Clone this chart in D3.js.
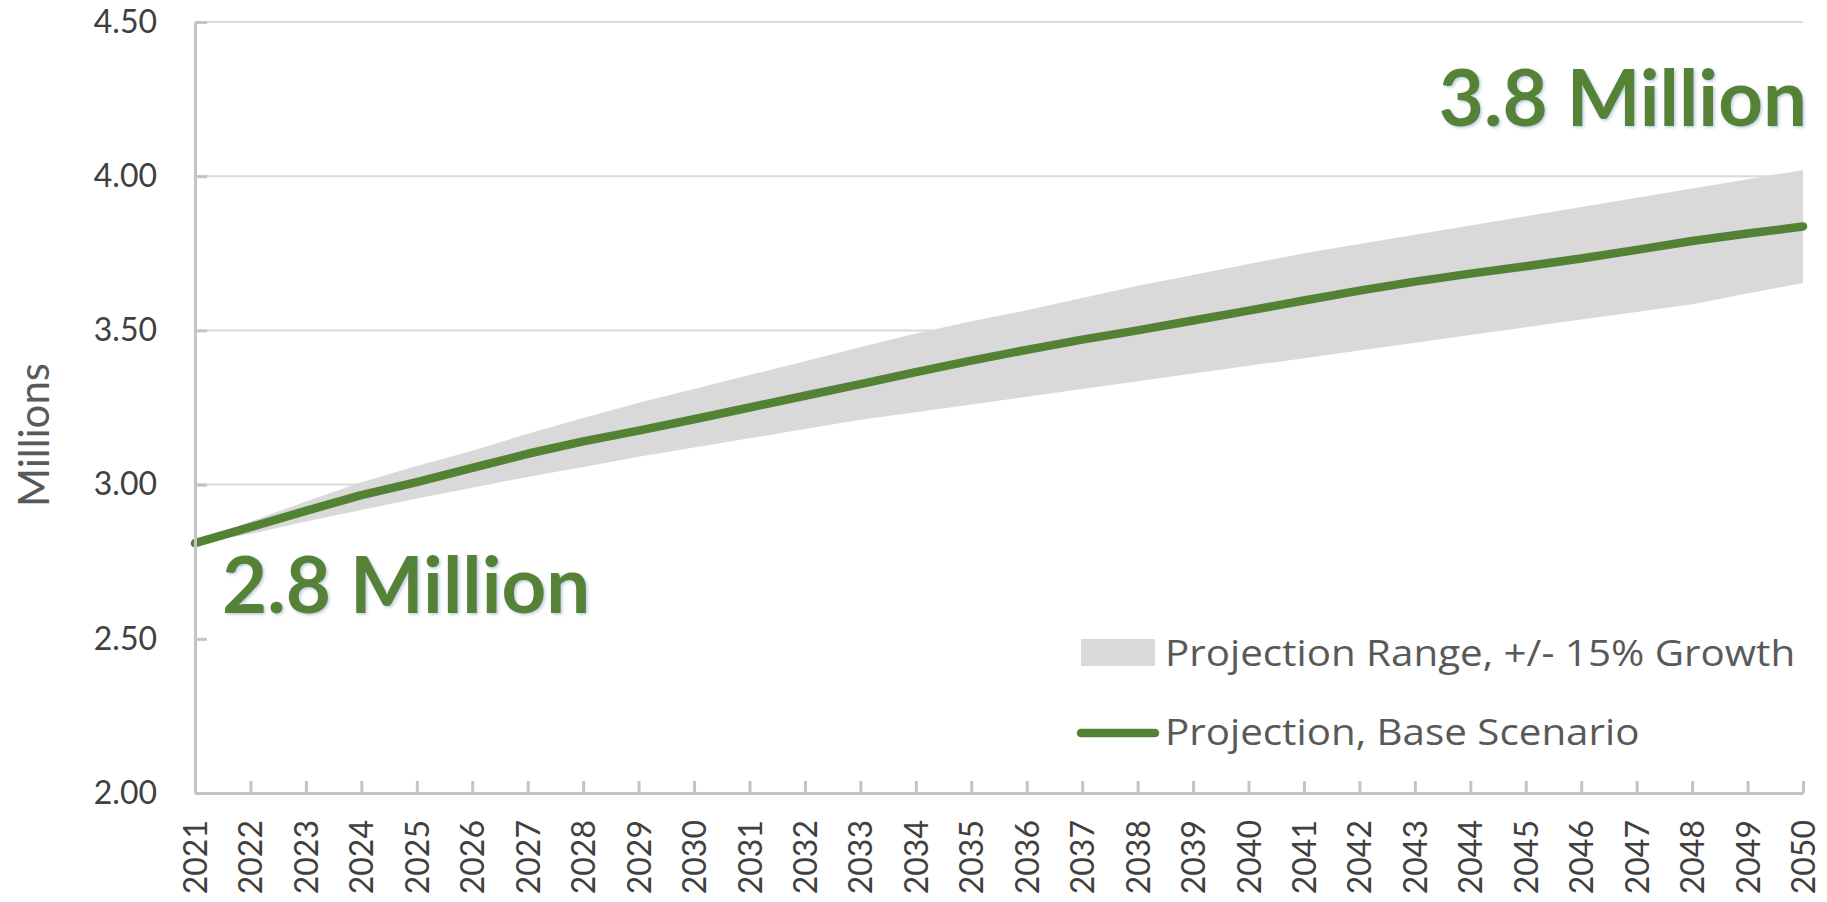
<!DOCTYPE html>
<html lang="en">
<head>
<meta charset="utf-8">
<title>Population Projection 2021-2050</title>
<script src="https://cdn.jsdelivr.net/npm/d3@7"></script>
<style>
  html, body { margin: 0; padding: 0; background: #fff; }
  svg { display: block; font-family: Lato, "Open Sans", sans-serif; }
  .axis path, .axis line { stroke: #c4c4c4; stroke-width: 3; }
  .axis text { fill: #404040; font-size: 32px; font-family: Lato, sans-serif; }
  .grid line { stroke: #d9d9d9; stroke-width: 2; }
</style>
</head>
<body>
<script>
var w = 1827, h = 902;
var margin = {top: 22, right: 24, bottom: 109, left: 195};

// data (millions)
var years = d3.range(2021, 2051);
var baseScenario = [2.81, 2.862, 2.915, 2.966, 3.008, 3.054, 3.10, 3.14, 3.175, 3.212,
                    3.25, 3.288, 3.326, 3.365, 3.402, 3.437, 3.47, 3.5, 3.532, 3.564,
                    3.597, 3.629, 3.658, 3.684, 3.708, 3.733, 3.761, 3.79, 3.814, 3.837];
var rangeHigh = [2.81, 2.88, 2.945, 3.008, 3.06, 3.11, 3.165, 3.216, 3.265, 3.31,
                 3.355, 3.40, 3.445, 3.49, 3.53, 3.565, 3.605, 3.645, 3.68, 3.715,
                 3.75, 3.78, 3.81, 3.84, 3.87, 3.90, 3.93, 3.96, 3.99, 4.02];
var rangeLow = [2.81, 2.84, 2.88, 2.918, 2.955, 2.99, 3.025, 3.057, 3.09, 3.12,
                3.15, 3.18, 3.21, 3.235, 3.26, 3.285, 3.31, 3.335, 3.36, 3.385,
                3.41, 3.435, 3.46, 3.485, 3.51, 3.535, 3.56, 3.585, 3.62, 3.654];
var yTicks = [2.00, 2.50, 3.00, 3.50, 4.00, 4.50];
var legendLabels = ["Projection Range, +/- 15% Growth", "Projection, Base Scenario"];
var startLabel = "2.8 Million", endLabel = "3.8 Million";

var green = "#548235", bandGrey = "#d9d9d9";

var svg = d3.select("body").append("svg")
    .attr("width", w)
    .attr("height", h);

var x = d3.scaleLinear()
    .domain([2021, 2050])
    .range([margin.left, w - margin.right]);

var y = d3.scaleLinear()
    .domain([2, 4.5])
    .range([h - margin.bottom, margin.top]);

// text glow
var defs = svg.append("defs");
defs.append("filter").attr("id", "glow")
  .attr("x", "-5%").attr("y", "-20%").attr("width", "110%").attr("height", "140%")
  .append("feDropShadow")
    .attr("dx", 1.5).attr("dy", 1.5).attr("stdDeviation", 1.5)
    .attr("flood-color", "#9db3d4").attr("flood-opacity", 0.7);

//Gridlines
svg.append("g")
    .attr("class", "grid")
    .selectAll("line")
    .data(yTicks.slice(1))
    .enter()
    .append("line")
    .attr("x1", x(2021))
    .attr("x2", x(2050))
    .attr("y1", function(d) { return y(d); })
    .attr("y2", function(d) { return y(d); });

var rows = years.map(function(yr, i) {
    return {year: yr, base: baseScenario[i], lo: rangeLow[i], hi: rangeHigh[i]};
});

//White area under the band (hides gridlines, like a stacked area)
svg.append("path")
    .datum(rows)
    .attr("fill", "#fff")
    .attr("d", d3.area()
        .x(function(d) { return x(d.year); })
        .y0(y(2))
        .y1(function(d) { return y(d.lo); }));

//Projection range band
svg.append("path")
    .datum(rows)
    .attr("fill", bandGrey)
    .attr("d", d3.area()
        .x(function(d) { return x(d.year); })
        .y0(function(d) { return y(d.lo); })
        .y1(function(d) { return y(d.hi); }));

//Base scenario line
svg.append("path")
    .datum(rows)
    .attr("fill", "none")
    .attr("stroke", green)
    .attr("stroke-width", 8.5)
    .attr("stroke-linejoin", "round")
    .attr("stroke-linecap", "round")
    .attr("d", d3.line()
        .x(function(d) { return x(d.year); })
        .y(function(d) { return y(d.base); }));

//Y axis
var yAxis = d3.axisLeft(y)
    .tickValues(yTicks)
    .tickFormat(d3.format(".2f"))
    .tickSizeInner(-12)
    .tickSizeOuter(0)
    .tickPadding(38);

svg.append("g")
    .attr("class", "axis")
    .attr("transform", "translate(" + margin.left + ",0)")
    .call(yAxis);

//X axis
var xAxis = d3.axisBottom(x)
    .tickValues(years)
    .tickFormat(d3.format("d"))
    .tickSizeInner(-12)
    .tickSizeOuter(0);

var gx = svg.append("g")
    .attr("class", "axis")
    .attr("transform", "translate(0," + (h - margin.bottom) + ")")
    .call(xAxis);

gx.selectAll("text")
    .attr("transform", "rotate(-90)")
    .attr("text-anchor", "end")
    .attr("x", -27)
    .attr("y", 0)
    .attr("dy", "0.36em");

//Y axis title
svg.append("text")
    .attr("transform", "translate(49," + 435 + ") rotate(-90)")
    .attr("text-anchor", "middle")
    .attr("font-size", "42px")
    .attr("fill", "#595959")
    .text("Millions");

//Annotations
svg.append("text")
    .attr("x", 222)
    .attr("y", 613)
    .attr("font-size", "78px")
    .attr("font-weight", "bold")
    .attr("fill", green)
    .attr("filter", "url(#glow)")
    .text(startLabel);

svg.append("text")
    .attr("x", 1807)
    .attr("y", 126)
    .attr("text-anchor", "end")
    .attr("font-size", "78px")
    .attr("font-weight", "bold")
    .attr("fill", green)
    .attr("filter", "url(#glow)")
    .text(endLabel);

//Legend
var legend = svg.append("g")
    .attr("transform", "translate(1081,0)");

legend.append("rect")
    .attr("x", 0)
    .attr("y", 639)
    .attr("width", 74)
    .attr("height", 27)
    .attr("fill", bandGrey);

legend.append("line")
    .attr("x1", 0)
    .attr("x2", 74)
    .attr("y1", 733)
    .attr("y2", 733)
    .attr("stroke", green)
    .attr("stroke-width", 8.5)
    .attr("stroke-linecap", "round");

// the source font is wide, so stretch the text a little horizontally
legend.selectAll("text.leg")
    .data(legendLabels)
    .enter()
    .append("text")
    .attr("class", "leg")
    .attr("transform", function(d, i) {
        return "translate(84," + (i === 0 ? 666 : 745) + ") scale(1.12,1)";
    })
    .attr("font-family", "'Open Sans', sans-serif")
    .attr("font-size", "36px")
    .attr("fill", "#595959")
    .text(function(d) { return d; });
</script>
</body>
</html>
